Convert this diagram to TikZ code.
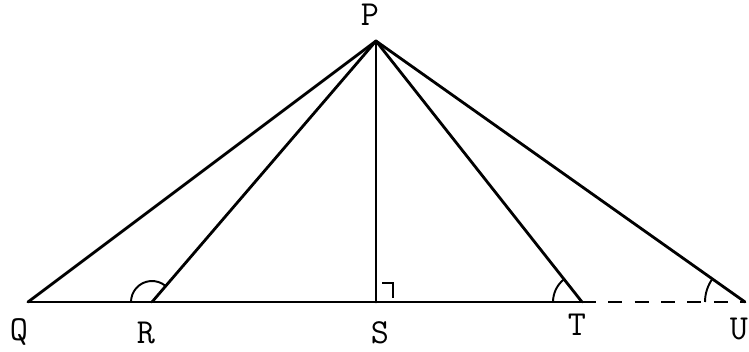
\documentclass[tikz,border=0pt]{standalone}
\begin{document}
\begin{tikzpicture}[x=0.02cm,y=0.02cm,
  seg/.style={line width=1.6pt,line cap=round},
  dashseg/.style={line width=1.6pt,dash pattern=on 8pt off 7pt},
  anglemark/.style={line width=1.1pt},
  lbl/.style={font=\ttfamily\fontsize{20}{22}\selectfont,inner sep=0pt}]
\useasboundingbox (0,0) rectangle (749,351);
\coordinate (P) at (376,310);
\coordinate (Q) at (28,49);
\coordinate (R) at (152,49);
\coordinate (S) at (376,49);
\coordinate (T) at (582,49);
\coordinate (U) at (745,49);
% lines
\draw[seg] (Q) -- (T);
\draw[dashseg] (T) -- (U);
\draw[seg] (P) -- (Q);
\draw[seg] (P) -- (R);
\draw[seg] (P) -- (S);
\draw[seg] (P) -- (T);
\draw[seg] (P) -- (U);
% angle marks
\draw[anglemark] ([shift={(49.5:21)}]R) arc[start angle=49.5,end angle=180,radius=21];
\draw[anglemark] ([shift={(6,19)}]S) -- ([shift={(17,19)}]S) -- ([shift={(17,4)}]S);
\draw[anglemark] ([shift={(128.2:29)}]T) arc[start angle=128.2,end angle=180,radius=29];
\draw[anglemark] ([shift={(144.6:40)}]U) arc[start angle=144.6,end angle=180,radius=40];
% labels
\node[lbl] (lP) at (370,336) {P};
\node[lbl] (lQ) at (19,19) {Q};
\node[lbl] (lR) at (146,18) {R};
\node[lbl] (lS) at (380,18) {S};
\node[lbl] (lT) at (577,26) {T};
\node[lbl] (lU) at (739,22) {U};
\end{tikzpicture}
\end{document}
